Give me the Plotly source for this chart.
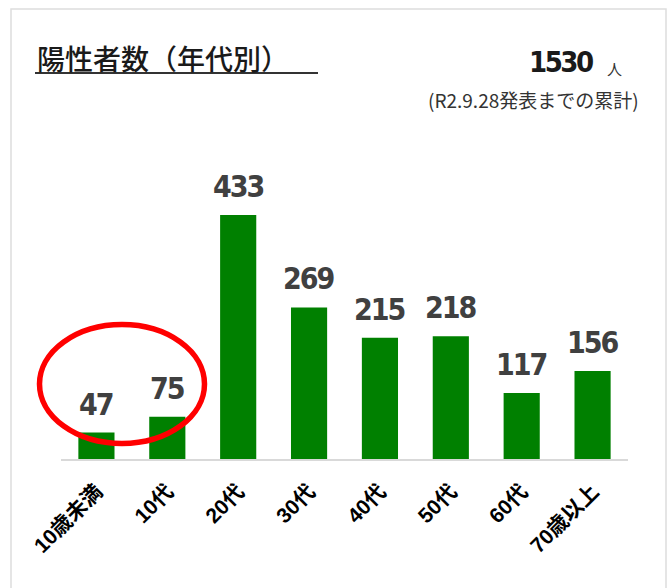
import plotly.graph_objects as go

categories = ["10歳未満", "10代", "20代", "30代", "40代", "50代", "60代", "70歳以上"]
values = [47, 75, 433, 269, 215, 218, 117, 156]
title_text = "陽性者数（年代別）"
total_text = "1530"
unit_text = "人"
note_text = "(R2.9.28発表までの累計)"

W, H = 672, 588
L, R, T, B = 61, 44, 150, 129
PW, PH = W - L - R, H - T - B

def px(x):
    return (x - L) / PW

def py(y):
    return (H - B - y) / PH

NARROW = "DejaVu Sans Condensed, DejaVu Sans"

def tight(s, ls):
    return f"<span style='letter-spacing:{ls}px'>{s}</span>"

fig = go.Figure()
fig.add_trace(go.Bar(
    x=categories, y=values,
    marker=dict(color="#008000", line=dict(width=0)),
    hoverinfo="skip",
))

for c, v in zip(categories, values):
    fig.add_annotation(
        x=c, y=v, xref="x", yref="y", text=tight(v, -2), showarrow=False,
        yanchor="bottom", yshift=9,
        font=dict(family=NARROW, size=30, color="#404040", weight="bold"),
    )

fig.add_annotation(
    x=px(35), y=py(58), xref="paper", yref="paper", text=title_text,
    showarrow=False, xanchor="left", yanchor="middle",
    font=dict(family="Noto Sans CJK JP", size=28, color="#1a1a1a", weight=500),
)
fig.add_annotation(
    x=px(595), y=py(62), xref="paper", yref="paper", text=tight(total_text, -2.5),
    showarrow=False, xanchor="right", yanchor="middle",
    font=dict(family=NARROW, size=29, color="#1a1a1a", weight="bold"),
)
fig.add_annotation(
    x=px(614), y=py(68), xref="paper", yref="paper", text=unit_text,
    showarrow=False, xanchor="center", yanchor="middle",
    font=dict(family="Noto Sans CJK JP", size=15, color="#333333"),
)
fig.add_annotation(
    x=px(641), y=py(100), xref="paper", yref="paper", text=note_text,
    showarrow=False, xanchor="right", yanchor="middle",
    font=dict(family="Noto Sans CJK JP", size=19, color="#333333"),
)

shapes = [
    dict(type="rect", xref="paper", yref="paper",
         x0=px(11), x1=px(666), y0=py(600), y1=py(9),
         line=dict(color="#dddddd", width=1.5), layer="below"),
    dict(type="line", xref="paper", yref="paper",
         x0=px(35), x1=px(318), y0=py(73), y1=py(73),
         line=dict(color="#333333", width=2)),
    dict(type="circle", xref="paper", yref="paper",
         x0=px(39.5), x1=px(204.5), y0=py(443.5), y1=py(324.5),
         line=dict(color="#ff0000", width=5.5), layer="above"),
]

fig.update_layout(
    width=W, height=H,
    margin=dict(l=L, r=R, t=T, b=B),
    paper_bgcolor="white", plot_bgcolor="white",
    showlegend=False,
    bargap=0.49,
    shapes=shapes,
    xaxis=dict(
        tickangle=-45, showgrid=False, zeroline=False,
        showline=True, linecolor="#d9d9d9", linewidth=2,
        ticks="", fixedrange=True, ticklabelstandoff=10,
        tickfont=dict(family="Liberation Sans, Noto Sans CJK JP", size=21,
                      color="#000000", weight="bold"),
    ),
    yaxis=dict(range=[0, PH / (244 / 433)], visible=False, fixedrange=True),
)

fig.write_html("out.html", config={"displayModeBar": False},
               post_script="document.body.style.margin='0px';")
